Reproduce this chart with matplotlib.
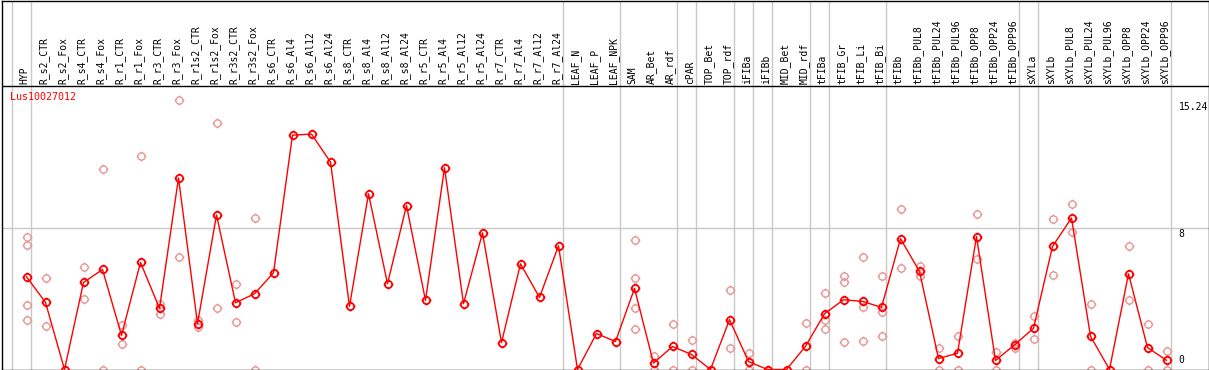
import matplotlib
matplotlib.use("Agg")
import matplotlib.pyplot as plt
from matplotlib.path import Path

# ---------------- data ----------------
gene_name = "Lus10027012"

samples = [
    "HYP", "R_s2_CTR", "R_s2_Fox", "R_s4_CTR", "R_s4_Fox", "R_r1_CTR", "R_r1_Fox",
    "R_r3_CTR", "R_r3_Fox", "R_r1s2_CTR", "R_r1s2_Fox", "R_r3s2_CTR", "R_r3s2_Fox",
    "R_s6_CTR", "R_s6_Al4", "R_s6_Al12", "R_s6_Al24", "R_s8_CTR", "R_s8_Al4",
    "R_s8_Al12", "R_s8_Al24", "R_r5_CTR", "R_r5_Al4", "R_r5_Al12", "R_r5_Al24",
    "R_r7_CTR", "R_r7_Al4", "R_r7_Al12", "R_r7_Al24", "LEAF_N", "LEAF_P", "LEAF_NPK",
    "SAM", "AR_Bet", "AR_rdf", "cPAR", "TOP_Bet", "TOP_rdf", "iFIBa", "iFIBb",
    "MID_Bet", "MID_rdf", "tFIBa", "tFIB_Gr", "tFIB_Li", "tFIB_Bi", "tFIBb",
    "tFIBb_PUL8", "tFIBb_PUL24", "tFIBb_PUL96", "tFIBb_OPP8", "tFIBb_OPP24",
    "tFIBb_OPP96", "sXYLa", "sXYLb", "sXYLb_PUL8", "sXYLb_PUL24", "sXYLb_PUL96",
    "sXYLb_OPP8", "sXYLb_OPP24", "sXYLb_OPP96",
]

means = [
    5.24, 3.79, 0.0, 4.92, 5.65, 1.93, 6.05, 3.45, 10.82, 2.59, 8.73, 3.77, 4.28,
    5.46, 13.24, 13.30, 11.72, 3.57, 9.93, 4.85, 9.26, 3.90, 11.40, 3.72, 7.72,
    1.52, 5.97, 4.07, 6.99, 0.0, 2.03, 1.58,
    4.58, 0.36, 1.30, 0.85, 0.0, 2.82, 0.45, 0.0, 0.0, 1.31, 3.15, 3.94, 3.85,
    3.51, 7.39, 5.54, 0.62, 0.92, 7.51, 0.51, 1.39, 2.33, 6.95, 8.56, 1.88, 0.0,
    5.41, 1.24, 0.52,
]

replicates = [
    [7.51, 7.04, 3.66, 2.82], [5.18, 2.44], [], [5.80, 4.00], [11.32, 0.0],
    [2.50, 1.43], [12.06, 0.0], [3.72, 3.15], [15.24, 6.38], [2.78, 2.40],
    [13.92, 3.49], [4.85, 2.70], [8.58, 0.0], [], [], [], [], [], [], [], [], [],
    [], [], [], [], [], [], [], [], [], [],
    [7.32, 5.18, 3.49, 2.31], [0.77, 0.0], [2.59, 0.0], [1.69, 0.0], [],
    [4.47, 1.24], [0.92, 0.0], [], [], [2.65, 0.0], [4.34, 2.82, 2.31],
    [5.30, 4.96, 1.58], [6.37, 3.55, 1.63], [5.30, 3.27, 1.92], [9.07, 5.71],
    [5.82, 5.31], [1.24, 0.0], [1.88, 0.0], [8.79, 6.25], [1.01, 0.0],
    [1.52, 1.22], [3.00, 1.70], [8.51, 5.35], [9.35, 7.75], [3.72, 0.0], [],
    [6.95, 3.94], [2.55, 0.0], [1.03, 0.0],
]

group_ends = [-1, 0, 28, 31, 34, 35, 37, 38, 39, 41, 42, 45, 52, 53, 60]
y_ticks = [0, 8, 15.24]
y_ticklabels = ["0", "8", "15.24"]

# ---------------- layout ----------------
W, H = 1209, 370
PX_PER_UNIT = 17.7
STEP = 19.0
X0 = 26.5

fig = plt.figure(figsize=(W / 100, H / 100), dpi=100)
ax = fig.add_axes([1.5 / W, 0.5 / H, 1207 / W, 369 / H])
ax.set_xlim((1.5 - X0) / STEP, (1208.5 - X0) / STEP)
ax.set_ylim(0, 369 / PX_PER_UNIT)
ax.set_xticks([])
ax.set_yticks([])
for sp in ax.spines.values():
    sp.set_color("black")
    sp.set_linewidth(1.0)

def py(pix):  # pixel row -> data value
    return (369.5 - pix) / PX_PER_UNIT

def px(col):
    return (col - X0) / STEP

grey = "#c8c8c8"
label_line = py(85.5)
ax.axhline(label_line, color="black", lw=1.0, zorder=3)
ax.axhline(8, color=grey, lw=1.0, zorder=0)
for g in group_ends:
    ax.axvline(g + 0.23, color=grey, lw=1.0, zorder=0)

# custom marker: circle with small ticks
circ = Path.unit_circle()
ticks = [Path([(0, 1), (0, 1.35)]), Path([(0, -1), (0, -1.35)]),
         Path([(1, 0), (1.35, 0)]), Path([(-1, 0), (-1.35, 0)])]
mk = Path.make_compound_path(circ, *ticks)

xs = list(range(len(samples)))

# replicate points
for i, reps in enumerate(replicates):
    if reps:
        ax.plot([i] * len(reps), reps, ls="none", marker=mk, ms=7.0,
                mfc="none", mec="#e89696", mew=1.0, zorder=2)

# mean line
ax.plot(xs, means, color="red", lw=1.0, marker=mk, ms=7.0, mfc="none",
        mec="red", mew=1.3, zorder=4)

# sample labels
for i, s in enumerate(samples):
    ax.text(i - 0.09, py(83.5), s, rotation=90, ha="center", va="bottom",
            fontsize=7, family="DejaVu Sans Mono", color="black", zorder=5)

# gene name
ax.text(px(9.5), py(96.7), gene_name, ha="left", va="center", fontsize=7.2,
        family="DejaVu Sans Mono", color="red", zorder=5)

# y value labels
xl = px(1178.5)
ax.text(xl, 15.24 - 0.15, y_ticklabels[2], ha="left", va="top", fontsize=7,
        family="DejaVu Sans Mono", color="black", clip_on=True)
ax.text(xl, 8 - 0.05, y_ticklabels[1], ha="left", va="top", fontsize=7,
        family="DejaVu Sans Mono", color="black")
ax.text(xl, 0.25, y_ticklabels[0], ha="left", va="bottom", fontsize=7,
        family="DejaVu Sans Mono", color="black")

fig.savefig("out.png", dpi=100)
